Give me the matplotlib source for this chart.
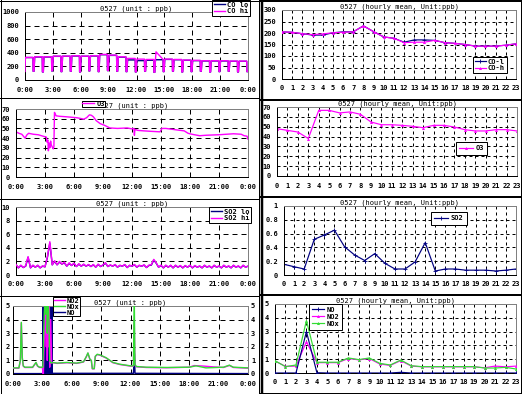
import matplotlib
matplotlib.use("Agg")
import matplotlib.pyplot as plt

# ---------------- data ----------------
hours24 = list(range(24))
hour_labels = [str(h) for h in hours24]
time_ticks = [0, 3, 6, 9, 12, 15, 18, 21, 24]
time_labels = ["0:00", "3:00", "6:00", "9:00", "12:00", "15:00", "18:00", "21:00", "0:00"]

# CO 1-min record: hourly plateau level and calibration-dip level
co_hi_plateau = [332, 341, 341, 351, 351, 356, 351, 356, 376, 366, 341, 317, 307, 302,
                 302, 307, 302, 293, 288, 283, 283, 283, 278, 278]
co_hi_dip = [130, 120, 135, 125, 130, 120, 135, 125, 140, 130, 125, 120, 130, 115,
             125, 130, 120, 125, 130, 120, 125, 130, 120, 125]
co_lo_plateau = [330, 338, 338, 348, 349, 353, 349, 353, 372, 362, 336, 295, 285, 290,
                 298, 303, 298, 290, 285, 280, 280, 280, 275, 275]
co_lo_dip = [128, 118, 133, 123, 128, 118, 133, 123, 138, 128, 123, 118, 128, 113,
             123, 128, 118, 123, 128, 118, 123, 128, 118, 123]
co_hi_spike = (14.1, 414)

# CO hourly means
co_l_hourly = [205, 203, 197, 191, 191, 201, 205, 205, 231, 206, 183, 177, 160, 170,
               170, 168, 158, 155, 150, 143, 143, 143, 147, 153]
co_h_hourly = [205, 203, 197, 193, 196, 201, 203, 205, 231, 206, 183, 177, 158, 160,
               160, 168, 158, 155, 150, 143, 143, 143, 147, 153]

# O3 record (hour, ppb)
o3_points = [(0.0, 46.5), (0.3, 45), (0.6, 44), (0.85, 41), (0.95, 40), (1.1, 43), (1.3, 45),
             (1.8, 44), (2.3, 43.5), (2.8, 42), (3.15, 41), (3.2, 36), (3.3, 38), (3.35, 27),
             (3.42, 35), (3.5, 30), (3.58, 37), (3.65, 33), (3.75, 31), (3.85, 29), (3.92, 31),
             (3.98, 66.5), (4.05, 65), (4.15, 63), (4.5, 62.5), (5.2, 62), (6.3, 61), (6.8, 60),
             (7.0, 59.5), (7.3, 61), (7.6, 64), (7.8, 63.5), (8.0, 62), (8.3, 58), (8.7, 55),
             (9.2, 53), (9.7, 50.5), (10.5, 50), (11.5, 50.5), (12.0, 49.5), (12.2, 50),
             (12.25, 43), (12.3, 49), (12.6, 48), (13.2, 47.5), (14.0, 47), (14.9, 46.5),
             (15.1, 50), (15.5, 50), (16.6, 48.5), (17.4, 47.5), (17.8, 45), (18.2, 44),
             (19.0, 42.5), (19.7, 43), (21.0, 43.5), (22.5, 44.5), (23.3, 44), (23.6, 42.5),
             (23.9, 42), (24.0, 39)]
o3_hourly = [48, 46.3, 44.6, 38, 66.6, 66.6, 64, 65, 62.6, 54.8, 52, 52, 51.4, 50.4,
             49, 51.4, 51.4, 49.7, 47, 45.7, 45.7, 47, 47, 45.7]

# SO2 record, one value every 15 minutes from 0:00 to 24:00
so2_hi = [1.55, 1.05, 1.45, 1.1, 1.35, 2.7, 1.05, 1.45, 1.15, 1.45, 1.05, 1.35,
          1.2, 2.7, 4.9, 1.5, 2.1, 1.5, 2.0, 1.6, 1.9, 1.3, 1.8, 1.4,
          1.75, 1.25, 1.65, 1.3, 1.6, 1.3, 1.55, 1.25, 1.55, 1.15, 1.6, 1.25,
          1.5, 1.8, 1.25, 1.5, 1.3, 1.55, 1.15, 1.45, 1.3, 1.55, 1.1, 1.45,
          1.3, 1.55, 1.15, 1.45, 1.3, 1.5, 1.1, 1.45, 1.5, 2.3, 1.8, 1.15,
          1.45, 1.05, 1.45, 1.15, 1.45, 1.05, 1.45, 1.15, 1.4, 1.05, 1.4, 1.15,
          1.45, 1.05, 1.4, 1.15, 1.35, 1.05, 1.45, 1.15, 1.35, 1.05, 1.45, 1.15,
          1.35, 1.05, 1.45, 1.15, 1.35, 1.05, 1.45, 1.15, 1.35, 1.05, 1.45, 1.15, 1.3]
so2_lo = [1.5, 1.05, 1.4, 1.1, 1.3, 2.6, 1.05, 1.4, 1.15, 1.4, 1.05, 1.3,
          1.2, 2.6, 4.7, 1.5, 2.0, 1.5, 1.9, 1.6, 1.8, 1.3, 1.7, 1.4,
          1.7, 1.25, 1.6, 1.3, 1.55, 1.3, 1.5, 1.25, 1.5, 1.15, 1.55, 1.25,
          1.45, 1.75, 1.25, 1.45, 1.3, 1.5, 1.15, 1.4, 1.3, 1.5, 1.1, 1.4,
          1.3, 1.5, 1.15, 1.4, 1.3, 1.45, 1.1, 1.4, 1.45, 2.2, 1.75, 1.15,
          1.4, 1.05, 1.4, 1.15, 1.4, 1.05, 1.4, 1.15, 1.35, 1.05, 1.35, 1.15,
          1.4, 1.05, 1.35, 1.15, 1.3, 1.05, 1.4, 1.15, 1.3, 1.05, 1.4, 1.15,
          1.3, 1.05, 1.4, 1.15, 1.3, 1.05, 1.4, 1.15, 1.3, 1.05, 1.4, 1.15, 1.3]
so2_hourly = [0.155, 0.12, 0.087, 0.517, 0.58, 0.65, 0.41, 0.29, 0.21, 0.31, 0.17, 0.087,
              0.087, 0.19, 0.47, 0.058, 0.087, 0.087, 0.07, 0.07, 0.07, 0.058, 0.07, 0.087]

# NOx / NO2 / NO record (hour, ppb)
nox_points = [(0.0, 0.45), (0.6, 0.45), (0.75, 1.0), (0.85, 3.8), (0.95, 1.2), (1.05, 0.6),
              (1.2, 0.5), (2.0, 0.5), (2.2, 0.7), (2.35, 0.85), (2.5, 0.6), (2.7, 0.5),
              (3.0, 0.5), (3.05, 0.5), (3.1, 2.0), (3.2, 4.5), (3.3, 6.0), (3.35, 4.4),
              (3.4, 6.0), (3.47, 6.0), (3.5, 3.0), (3.55, 6.0), (3.65, 4.6), (3.75, 1.0),
              (3.9, 0.8), (4.05, 0.85), (4.5, 0.8), (5.5, 0.85), (6.5, 0.8), (7.2, 0.9),
              (7.5, 1.3), (7.65, 1.55), (7.85, 1.1), (8.0, 1.0), (8.1, 0.4), (8.3, 0.4),
              (8.4, 1.3), (8.6, 1.45), (8.9, 1.4), (9.5, 1.2), (10.2, 0.85), (10.9, 0.72),
              (12.0, 0.6), (12.3, 0.6), (12.38, 6.0), (12.45, 0.7), (12.6, 0.55), (13.6, 0.5),
              (15.7, 0.48), (18.0, 0.5), (18.7, 0.6), (19.7, 0.45), (21.5, 0.5), (22.1, 0.65),
              (22.5, 0.5), (24.0, 0.45)]
no2_points = [(0.0, 0.43), (0.6, 0.43), (0.75, 0.97), (0.85, 3.75), (0.95, 1.17), (1.05, 0.58),
              (1.2, 0.48), (2.0, 0.48), (2.2, 0.68), (2.35, 0.83), (2.5, 0.58), (2.7, 0.48),
              (3.0, 0.48), (3.05, 0.2), (3.1, -0.15), (3.15, 1.5), (3.35, 6.0), (3.4, 2.0),
              (3.45, 6.0), (3.5, 1.0), (3.55, 6.0), (3.6, 2.0), (3.7, 6.0), (3.75, 0.5),
              (3.85, 4.0), (3.95, 0.8), (4.05, 0.83), (4.5, 0.78), (5.5, 0.83), (6.5, 0.78),
              (7.2, 0.88), (7.5, 1.28), (7.65, 1.53), (7.85, 1.08), (8.0, 0.98), (8.1, 0.38),
              (8.3, 0.38), (8.4, 1.28), (8.6, 1.43), (8.9, 1.38), (9.5, 1.18), (10.2, 0.83),
              (10.9, 0.7), (12.0, 0.58), (12.3, 0.58), (12.38, 4.0), (12.45, 0.68), (12.6, 0.53),
              (13.6, 0.48), (15.7, 0.46), (18.0, 0.5), (18.5, 0.62), (19.5, 0.58), (20.5, 0.52),
              (21.5, 0.48), (22.1, 0.63), (22.5, 0.48), (24.0, 0.43)]
no_points = [(0.0, 0.03), (3.0, 0.03), (3.06, 0.0), (3.08, 6), (3.1, 0), (3.13, 6), (3.16, 0),
             (3.19, 6), (3.22, 0), (3.25, 6), (3.28, 0), (3.31, 6), (3.34, 0), (3.37, 6),
             (3.4, 0), (3.43, 6), (3.46, 0), (3.49, 6), (3.52, 0), (3.55, 6), (3.58, 0),
             (3.61, 6), (3.64, 0), (3.67, 6), (3.7, 0), (3.73, 6), (3.76, 0), (3.79, 6),
             (3.82, 0), (3.85, 6), (3.88, 0), (3.91, 6), (3.94, 0), (3.97, 6), (4.0, 0.05),
             (12.3, 0.05), (12.4, 1.5), (12.46, 0.05), (24.0, 0.03)]
nox_hourly = [0.89, 0.46, 0.58, 3.8, 0.78, 0.78, 0.78, 1.09, 0.97, 1.09, 0.70, 0.58,
              0.94, 0.53, 0.46, 0.46, 0.46, 0.46, 0.46, 0.46, 0.36, 0.36, 0.41, 0.29]
no2_hourly = [0.87, 0.48, 0.50, 2.27, 0.75, 0.75, 0.75, 1.05, 0.95, 1.05, 0.65, 0.55,
              0.90, 0.50, 0.45, 0.45, 0.45, 0.45, 0.45, 0.45, 0.38, 0.50, 0.45, 0.50]
no_hourly = [0.0, 0.0, 0.0, 3.0, 0.02, 0.0, 0.0, 0.0, 0.0, 0.0, 0.0, 0.0,
             0.05, 0.0, 0.0, 0.0, 0.0, 0.0, 0.0, 0.0, 0.0, 0.0, 0.0, 0.0]

title_min = "0527 (unit : ppb)"
title_hr = "0527 (hourly mean, Unit:ppb)"

# ---------------- style ----------------
W, H, DPI = 522, 394, 100
PT = 72.0 / DPI          # points per pixel
FS = 5
NAVY, MAG, GRN, GRAY = "#000080", "#FF00FF", "#33DD33", "#808080"
plt.rcParams["font.family"] = ["DejaVu Sans Mono", "DejaVu Sans"]
plt.rcParams["font.weight"] = "bold"

fig = plt.figure(figsize=(W / DPI, H / DPI), dpi=DPI)


def px_axes(x0, y0, x1, y1):
    return fig.add_axes([x0 / W, 1 - y1 / H, (x1 - x0) / W, (y1 - y0) / H])


def setup(ax, xlim, ylim, xt, xl, yt, yl, vgrid, hgrid, dash, title, ypad=6, right=False):
    ax.set_xlim(xlim)
    ax.set_ylim(ylim)
    ax.set_xticks(xt)
    ax.set_xticklabels(xl)
    ax.set_yticks(yt)
    ax.set_yticklabels(yl)
    ax.tick_params(axis="both", length=0, labelsize=FS, colors="black")
    ax.tick_params(axis="x", pad=6.5 * PT)
    ax.tick_params(axis="y", pad=ypad * PT)
    if right:
        ax.tick_params(axis="y", labelright=True, right=False)
    for s in ("top", "right"):
        ax.spines[s].set_color(GRAY)
    for s in ("left", "bottom"):
        ax.spines[s].set_color("black")
    for sp in ax.spines.values():
        sp.set_linewidth(PT)
    # dashes are scaled by the line width, so these are pixel lengths
    for v in vgrid:
        ax.axvline(v, color="black", lw=PT, dashes=dash, zorder=1)
    for h in hgrid:
        ax.axhline(h, color="black", lw=PT, dashes=dash, zorder=1)
    ax.set_title(title, fontsize=FS, pad=0.5)


def legend(ax, handles, labels, x0, y0, **kw):
    opts = dict(fontsize=FS, handletextpad=0.3, borderpad=0.25, labelspacing=0.1,
                handlelength=1.6)
    opts.update(kw)
    lg = ax.legend(handles, labels, loc="upper left", bbox_to_anchor=(x0 / W, 1 - y0 / H),
                   bbox_transform=fig.transFigure, frameon=True, fancybox=False,
                   framealpha=1, edgecolor="black", borderaxespad=0, **opts)
    lg.get_frame().set_linewidth(PT)
    return lg


def co_series(plateau, dip, spike=None):
    t, v = [0.0], [dip[-1]]
    for h in range(24):
        t += [h + 0.04, h + 0.86, h + 0.88, h + 0.97]
        v += [plateau[h], plateau[h], dip[h], dip[h]]
    t.append(24.0)
    v.append(dip[-1])
    if spike is not None:
        pairs = sorted(list(zip(t, v)) + [spike])
        t, v = [p[0] for p in pairs], [p[1] for p in pairs]
    return t, v


LW = PT * 1.4
HLW = PT * 1.2
tgrid = [3, 6, 9, 12, 15, 18, 21]
hgrid_h = list(range(1, 23))
TD = (5, 4)
HD = (3, 3)

# ---- L1: CO ----
ax = px_axes(25, 12, 248, 80)
setup(ax, (0, 24), (0, 1000), time_ticks, time_labels, [0, 200, 400, 600, 800, 1000],
      ["0", "200", "400", "600", "800", "1000"], tgrid, [200, 400, 600, 800], TD, title_min)
t, v = co_series(co_lo_plateau, co_lo_dip)
l1, = ax.plot(t, v, color=NAVY, lw=LW, zorder=2)
t, v = co_series(co_hi_plateau, co_hi_dip, co_hi_spike)
l2, = ax.plot(t, v, color=MAG, lw=LW, zorder=3)
legend(ax, [l1, l2], ["CO lo", "CO hi"], 212, 0)

# ---- R1: CO hourly ----
ax = px_axes(282, 10, 516, 79)
setup(ax, (0, 23), (0, 300), hours24, hour_labels, [0, 50, 100, 150, 200, 250, 300],
      ["0", "50", "100", "150", "200", "250", "300"], hgrid_h, [50, 100, 150, 200, 250], HD,
      title_hr)
l1, = ax.plot(hours24, co_l_hourly, color=NAVY, lw=HLW, marker="+", ms=3.5, mew=0.6, zorder=2)
l2, = ax.plot(hours24, co_h_hourly, color=MAG, lw=HLW, marker="^", ms=2.2, mew=0, zorder=3)
legend(ax, [l1, l2], ["CO-l", "CO-h"], 473, 57)

# ---- L2: O3 ----
ax = px_axes(16, 109, 248, 177)
setup(ax, (0, 24), (0, 70), time_ticks, time_labels, [0, 10, 20, 30, 40, 50, 60, 70],
      ["0", "10", "20", "30", "40", "50", "60", "70"], tgrid, [10, 20, 30, 40, 50, 60], TD,
      title_min)
l1, = ax.plot([p[0] for p in o3_points], [p[1] for p in o3_points], color=MAG, lw=LW, zorder=2)
legend(ax, [l1], ["O3"], 82, 100.5, borderpad=0.05, handlelength=1.7)

# ---- R2: O3 hourly ----
ax = px_axes(277, 107, 517, 176)
setup(ax, (0, 23), (0, 70), hours24, hour_labels, [0, 10, 20, 30, 40, 50, 60, 70],
      ["0", "10", "20", "30", "40", "50", "60", "70"], hgrid_h, [10, 20, 30, 40, 50, 60], HD,
      title_hr)
l1, = ax.plot(hours24, o3_hourly, color=MAG, lw=HLW, marker="^", ms=2.2, mew=0, zorder=2)
legend(ax, [l1], ["O3"], 456, 142, borderpad=0.5, handlelength=2.0)

# ---- L3: SO2 ----
so2_t = [i * 0.25 for i in range(len(so2_hi))]
ax = px_axes(16, 207, 248, 275)
setup(ax, (0, 24), (0, 10), time_ticks, time_labels, [0, 2, 4, 6, 8, 10],
      ["0", "2", "4", "6", "8", "10"], tgrid, [2, 4, 6, 8], TD, title_min)
l1, = ax.plot(so2_t, so2_lo, color=NAVY, lw=LW, zorder=2)
l2, = ax.plot(so2_t, so2_hi, color=MAG, lw=LW, zorder=3)
legend(ax, [l1, l2], ["SO2 lo", "SO2 hi"], 209, 207)

# ---- R3: SO2 hourly ----
ax = px_axes(284, 206, 516, 275)
setup(ax, (0, 23), (0, 1), hours24, hour_labels, [0, 0.2, 0.4, 0.6, 0.8, 1.0],
      ["0", "0.2", "0.4", "0.6", "0.8", "1"], hgrid_h, [0.2, 0.4, 0.6, 0.8], HD, title_hr)
l1, = ax.plot(hours24, so2_hourly, color=NAVY, lw=HLW, marker="+", ms=3.5, mew=0.6, zorder=2)
legend(ax, [l1], ["SO2"], 431, 212, borderpad=0.5, handlelength=2.0)

# ---- L4: NOx ----
ax = px_axes(13, 306, 248, 374)
setup(ax, (0, 24), (0, 5), time_ticks, time_labels, [0, 1, 2, 3, 4, 5],
      ["0", "1", "2", "3", "4", "5"], tgrid, [1, 2, 3, 4], TD, title_min, ypad=3, right=True)
ln, = ax.plot([p[0] for p in no_points], [p[1] for p in no_points], color=NAVY, lw=LW, zorder=2)
l2, = ax.plot([p[0] for p in no2_points], [p[1] for p in no2_points], color=MAG, lw=LW, zorder=3)
lx, = ax.plot([p[0] for p in nox_points], [p[1] for p in nox_points], color=GRN, lw=LW, zorder=4)
legend(ax, [l2, lx, ln], ["NO2", "NOx", "NO"], 53, 297, borderpad=0.1, labelspacing=0.0,
       handlelength=1.6)

# ---- R4: NOx hourly ----
ax = px_axes(275, 304, 516, 373)
setup(ax, (0, 23), (0, 5), hours24, hour_labels, [0, 1, 2, 3, 4, 5],
      ["0", "1", "2", "3", "4", "5"], hgrid_h, [1, 2, 3, 4], HD, title_hr)
l2, = ax.plot(hours24, no2_hourly, color=MAG, lw=HLW, marker="^", ms=2.2, mew=0, zorder=3)
lx, = ax.plot(hours24, nox_hourly, color=GRN, lw=HLW, marker="^", ms=2.2, mew=0, zorder=4)
ln, = ax.plot(hours24, no_hourly, color=NAVY, lw=HLW, marker="+", ms=3.5, mew=0.6, zorder=5)
legend(ax, [ln, l2, lx], ["NO", "NO2", "NOx"], 309, 304, borderpad=0.4, labelspacing=0.15,
       handlelength=1.8)

# ---- panel borders ----
ov = fig.add_axes([0, 0, 1, 1])
ov.set_xlim(0, W)
ov.set_ylim(H, 0)
ov.axis("off")
ov.patch.set_alpha(0)
for y in (0.5, 97.5, 198.5, 295.5, 393.5):
    ov.plot([0, 259], [y, y], color="black", lw=PT)
ov.plot([0.5, 0.5], [0, H], color="black", lw=PT)
ov.plot([258.5, 258.5], [0, H], color="black", lw=PT)
for y in (0.5, 99.5, 196.5, 294.5, 393.5):
    ov.plot([261, 521], [y, y], color="black", lw=2 * PT)
ov.plot([262, 262], [0, H], color="black", lw=2.5 * PT)
ov.plot([520.5, 520.5], [0, H], color="black", lw=PT)

fig.savefig("out.png", dpi=DPI)
